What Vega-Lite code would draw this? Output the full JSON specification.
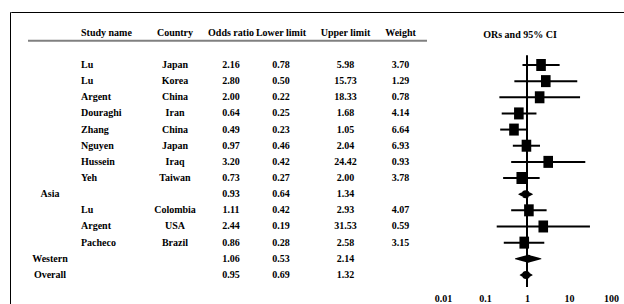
{
  "$schema": "https://vega.github.io/schema/vega-lite/v6.json",
  "padding": {"left": 9, "top": 11, "right": 0, "bottom": 0},
  "background": "white",
  "datasets": {
    "t": [
      {"row": "1", "group": "", "study": "Lu", "country": "Japan", "or": 2.16, "lower": 0.78, "upper": 5.98, "weight": 3.70, "kind": "study"},
      {"row": "2", "group": "", "study": "Lu", "country": "Korea", "or": 2.80, "lower": 0.50, "upper": 15.73, "weight": 1.29, "kind": "study"},
      {"row": "3", "group": "", "study": "Argent", "country": "China", "or": 2.00, "lower": 0.22, "upper": 18.33, "weight": 0.78, "kind": "study"},
      {"row": "4", "group": "", "study": "Douraghi", "country": "Iran", "or": 0.64, "lower": 0.25, "upper": 1.68, "weight": 4.14, "kind": "study"},
      {"row": "5", "group": "", "study": "Zhang", "country": "China", "or": 0.49, "lower": 0.23, "upper": 1.05, "weight": 6.64, "kind": "study"},
      {"row": "6", "group": "", "study": "Nguyen", "country": "Japan", "or": 0.97, "lower": 0.46, "upper": 2.04, "weight": 6.93, "kind": "study"},
      {"row": "7", "group": "", "study": "Hussein", "country": "Iraq", "or": 3.20, "lower": 0.42, "upper": 24.42, "weight": 0.93, "kind": "study"},
      {"row": "8", "group": "", "study": "Yeh", "country": "Taiwan", "or": 0.73, "lower": 0.27, "upper": 2.00, "weight": 3.78, "kind": "study"},
      {"row": "9", "group": "Asia", "study": "", "country": "", "or": 0.93, "lower": 0.64, "upper": 1.34, "weight": null, "kind": "subgroup"},
      {"row": "10", "group": "", "study": "Lu", "country": "Colombia", "or": 1.11, "lower": 0.42, "upper": 2.93, "weight": 4.07, "kind": "study"},
      {"row": "11", "group": "", "study": "Argent", "country": "USA", "or": 2.44, "lower": 0.19, "upper": 31.53, "weight": 0.59, "kind": "study"},
      {"row": "12", "group": "", "study": "Pacheco", "country": "Brazil", "or": 0.86, "lower": 0.28, "upper": 2.58, "weight": 3.15, "kind": "study"},
      {"row": "13", "group": "Western", "study": "", "country": "", "or": 1.06, "lower": 0.53, "upper": 2.14, "weight": null, "kind": "subgroup"},
      {"row": "14", "group": "Overall", "study": "", "country": "", "or": 0.95, "lower": 0.69, "upper": 1.32, "weight": null, "kind": "overall"}
    ]
  },
  "spacing": 0,
  "bounds": "flush",
  "hconcat": [
    {"width": 0.01, "height": 300, "view": {"stroke": "#000", "strokeWidth": 1}, "data": {"values": []}, "mark": "point"},
    {
      "spacing": 11.6,
      "bounds": "flush",
      "vconcat": [
        {"width": 620, "height": 0.01, "view": {"stroke": "#000", "strokeWidth": 1}, "data": {"values": []}, "mark": "point"},
        {
          "spacing": 0,
          "bounds": "flush",
          "hconcat": [
            {"width": 17, "height": 258.4, "data": {"values": []}, "mark": "point"},
            {
              "width": 44, "height": 258.4,
              "layer": [
                {"data": {"values": [{}]}, "mark": {"type": "rule", "color": "#808080", "strokeWidth": 2}, "encoding": {"y": {"datum": "head", "type": "nominal", "bandPosition": 1, "scale": {"type": "band", "domain": ["head", "gap", "1", "2", "3", "4", "5", "6", "7", "8", "9", "10", "11", "12", "13", "14"], "paddingInner": 0, "paddingOuter": 0}, "axis": null}}},
                {"data": {"name": "t"}, "mark": "text", "encoding": {"y": {"field": "row", "type": "nominal", "axis": null}, "text": {"field": "group"}}}
              ]
            },
            {
              "width": 9, "height": 258.4,
              "data": {"values": [{}]},
              "mark": {"type": "rule", "color": "#808080", "strokeWidth": 2},
              "encoding": {"y": {"datum": "head", "type": "nominal", "bandPosition": 1, "scale": {"type": "band", "domain": ["head", "gap", "1", "2", "3", "4", "5", "6", "7", "8", "9", "10", "11", "12", "13", "14"], "paddingInner": 0, "paddingOuter": 0}, "axis": null}}
            },
            {
              "width": 52, "height": 258.4,
              "layer": [
                {"data": {"values": [{}]}, "mark": {"type": "rule", "color": "#808080", "strokeWidth": 2}, "encoding": {"y": {"datum": "head", "type": "nominal", "bandPosition": 1, "scale": {"type": "band", "domain": ["head", "gap", "1", "2", "3", "4", "5", "6", "7", "8", "9", "10", "11", "12", "13", "14"], "paddingInner": 0, "paddingOuter": 0}, "axis": null}}},
                {"data": {"values": [{}]}, "mark": {"type": "text", "align": "left"}, "encoding": {"x": {"value": 0}, "y": {"datum": "head", "type": "nominal", "axis": null}, "text": {"value": "Study name"}}},
                {"data": {"name": "t"}, "mark": {"type": "text", "align": "left"}, "encoding": {"x": {"value": 0}, "y": {"field": "row", "type": "nominal", "axis": null}, "text": {"field": "study"}}}
              ]
            },
            {
              "width": 84, "height": 258.4,
              "layer": [
                {"data": {"values": [{}]}, "mark": {"type": "rule", "color": "#808080", "strokeWidth": 2}, "encoding": {"y": {"datum": "head", "type": "nominal", "bandPosition": 1, "scale": {"type": "band", "domain": ["head", "gap", "1", "2", "3", "4", "5", "6", "7", "8", "9", "10", "11", "12", "13", "14"], "paddingInner": 0, "paddingOuter": 0}, "axis": null}}},
                {"data": {"values": [{}]}, "mark": "text", "encoding": {"y": {"datum": "head", "type": "nominal", "axis": null}, "text": {"value": "Country"}}},
                {"data": {"name": "t"}, "mark": "text", "encoding": {"y": {"field": "row", "type": "nominal", "axis": null}, "text": {"field": "country"}}}
              ]
            },
            {
              "width": 28, "height": 258.4,
              "layer": [
                {"data": {"values": [{}]}, "mark": {"type": "rule", "color": "#808080", "strokeWidth": 2}, "encoding": {"y": {"datum": "head", "type": "nominal", "bandPosition": 1, "scale": {"type": "band", "domain": ["head", "gap", "1", "2", "3", "4", "5", "6", "7", "8", "9", "10", "11", "12", "13", "14"], "paddingInner": 0, "paddingOuter": 0}, "axis": null}}},
                {"data": {"values": [{}]}, "mark": "text", "encoding": {"y": {"datum": "head", "type": "nominal", "axis": null}, "text": {"value": "Odds ratio"}}},
                {"data": {"name": "t"}, "mark": "text", "encoding": {"y": {"field": "row", "type": "nominal", "axis": null}, "text": {"field": "or", "type": "quantitative", "format": ".2f"}}}
              ]
            },
            {
              "width": 72, "height": 258.4,
              "layer": [
                {"data": {"values": [{}]}, "mark": {"type": "rule", "color": "#808080", "strokeWidth": 2}, "encoding": {"y": {"datum": "head", "type": "nominal", "bandPosition": 1, "scale": {"type": "band", "domain": ["head", "gap", "1", "2", "3", "4", "5", "6", "7", "8", "9", "10", "11", "12", "13", "14"], "paddingInner": 0, "paddingOuter": 0}, "axis": null}}},
                {"data": {"values": [{}]}, "mark": "text", "encoding": {"y": {"datum": "head", "type": "nominal", "axis": null}, "text": {"value": "Lower limit"}}},
                {"data": {"name": "t"}, "mark": "text", "encoding": {"y": {"field": "row", "type": "nominal", "axis": null}, "text": {"field": "lower", "type": "quantitative", "format": ".2f"}}}
              ]
            },
            {
              "width": 57, "height": 258.4,
              "layer": [
                {"data": {"values": [{}]}, "mark": {"type": "rule", "color": "#808080", "strokeWidth": 2}, "encoding": {"y": {"datum": "head", "type": "nominal", "bandPosition": 1, "scale": {"type": "band", "domain": ["head", "gap", "1", "2", "3", "4", "5", "6", "7", "8", "9", "10", "11", "12", "13", "14"], "paddingInner": 0, "paddingOuter": 0}, "axis": null}}},
                {"data": {"values": [{}]}, "mark": "text", "encoding": {"y": {"datum": "head", "type": "nominal", "axis": null}, "text": {"value": "Upper limit"}}},
                {"data": {"name": "t"}, "mark": "text", "encoding": {"y": {"field": "row", "type": "nominal", "axis": null}, "text": {"field": "upper", "type": "quantitative", "format": ".2f"}}}
              ]
            },
            {
              "width": 53, "height": 258.4,
              "layer": [
                {"data": {"values": [{}]}, "mark": {"type": "rule", "color": "#808080", "strokeWidth": 2}, "encoding": {"y": {"datum": "head", "type": "nominal", "bandPosition": 1, "scale": {"type": "band", "domain": ["head", "gap", "1", "2", "3", "4", "5", "6", "7", "8", "9", "10", "11", "12", "13", "14"], "paddingInner": 0, "paddingOuter": 0}, "axis": null}}},
                {"data": {"values": [{}]}, "mark": "text", "encoding": {"y": {"datum": "head", "type": "nominal", "axis": null}, "text": {"value": "Weight"}}},
                {"data": {"name": "t"}, "transform": [{"filter": "isValid(datum.weight)"}], "mark": "text", "encoding": {"y": {"field": "row", "type": "nominal", "axis": null}, "text": {"field": "weight", "type": "quantitative", "format": ".2f"}}}
              ]
            },
            {"width": 16, "height": 258.4, "data": {"values": []}, "mark": "point"},
            {
              "width": 168, "height": 258.4,
              "layer": [
                {"data": {"values": [{}]}, "mark": {"type": "rule", "color": "#000", "strokeWidth": 2},
                 "encoding": {
                   "x": {"datum": 1, "type": "quantitative", "scale": {"type": "log", "domain": [0.01, 100], "nice": false}, "axis": {"orient": "bottom", "values": [0.01, 0.1, 1, 10, 100], "format": "~g", "domain": false, "ticks": false, "grid": false, "title": null, "labelFlush": false, "labelFont": "Liberation Serif", "labelFontWeight": "bold", "labelFontSize": 10, "labelColor": "#000", "labelPadding": 10}},
                   "y": {"datum": "gap", "type": "nominal", "bandPosition": 0.9, "scale": {"type": "band", "domain": ["head", "gap", "1", "2", "3", "4", "5", "6", "7", "8", "9", "10", "11", "12", "13", "14"], "paddingInner": 0, "paddingOuter": 0}, "axis": null},
                   "y2": {"datum": "14", "bandPosition": 1.25}
                 }},
                {"data": {"name": "t"}, "transform": [{"filter": "datum.kind == 'study'"}], "mark": {"type": "rule", "color": "#000", "strokeWidth": 2},
                 "encoding": {"x": {"field": "lower", "type": "quantitative"}, "x2": {"field": "upper"}, "y": {"field": "row", "type": "nominal", "axis": null}}},
                {"data": {"name": "t"}, "transform": [{"filter": "datum.kind == 'study'"}], "mark": {"type": "point", "shape": "M-0.8,-1H0.8V1H-0.8Z", "size": 144, "filled": true, "color": "#000", "opacity": 1},
                 "encoding": {"x": {"field": "or", "type": "quantitative"}, "y": {"field": "row", "type": "nominal", "axis": null}}},
                {"data": {"name": "t"}, "transform": [{"filter": "datum.kind != 'study'"}, {"fold": ["lower", "or", "upper"], "as": ["k", "v"]}], "mark": {"type": "trail", "color": "#000"},
                 "encoding": {"x": {"field": "v", "type": "quantitative"}, "y": {"field": "row", "type": "nominal", "axis": null}, "size": {"field": "k", "type": "ordinal", "scale": {"type": "ordinal", "domain": ["lower", "or", "upper"], "range": [0, 8, 0]}, "legend": null}, "detail": {"field": "row"}}},
                {"data": {"values": [{}]}, "mark": {"type": "text", "dx": -7, "dy": 2}, "encoding": {"y": {"datum": "head", "type": "nominal", "axis": null}, "text": {"value": "ORs and 95% CI"}}}
              ]
            }
          ]
        }
      ]
    }
  ],
  "config": {
    "view": {"stroke": null},
    "text": {"font": "Liberation Serif", "fontWeight": "bold", "fontSize": 10, "color": "#000"}
  }
}
